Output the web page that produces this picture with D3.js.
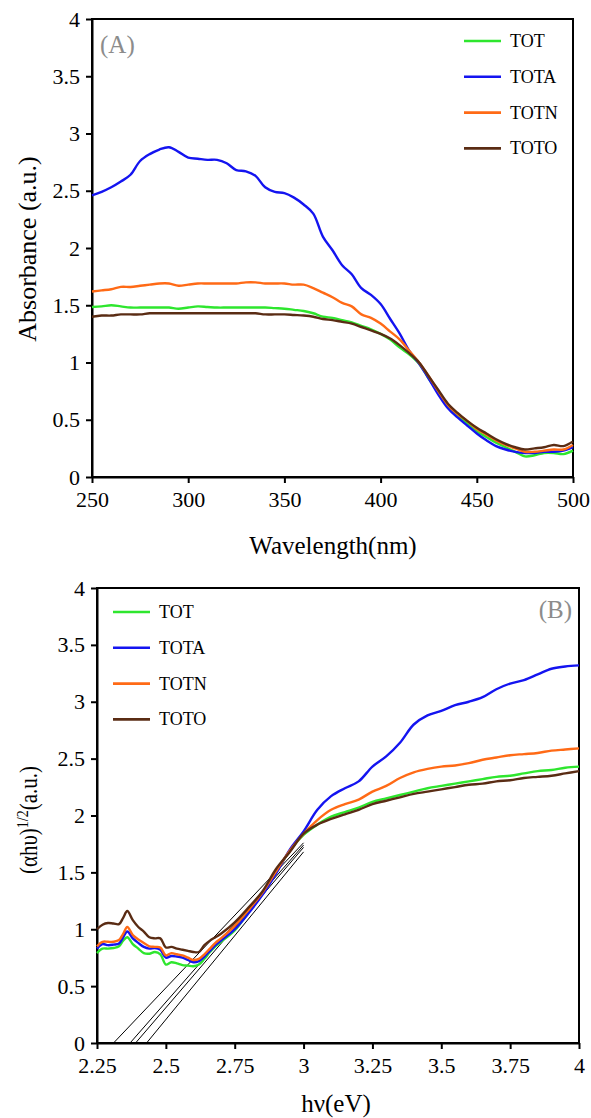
<!DOCTYPE html>
<html>
<head>
<meta charset="utf-8">
<script src="https://cdn.jsdelivr.net/npm/d3@7"></script>
<style>
  body { margin: 0; background: #fff; }
</style>
</head>
<body>
<svg id="chart" width="591" height="1118"></svg>
<script>
var serif = "'Liberation Serif', 'DejaVu Serif', 'Times New Roman', serif";

// series
var seriesNames = ["TOT", "TOTA", "TOTN", "TOTO"];
var seriesColors = ["#2ee62e", "#1414f0", "#ff6a16", "#5a2c14"];

// (A) absorbance vs wavelength (nm)
var wlA = [250,255,260,265,270,275,280,285,290,295,300,305,310,315,320,325,330,335,340,345,350,355,360,365,370,375,380,385,390,395,400,405,410,415,420,425,430,435,440,445,450,455,460,465,470,475,480,485,490,495,500];
var absTOT  = [1.485,1.49,1.50,1.49,1.48,1.48,1.48,1.48,1.48,1.47,1.48,1.49,1.485,1.48,1.48,1.48,1.48,1.48,1.48,1.475,1.47,1.46,1.45,1.43,1.40,1.39,1.37,1.35,1.32,1.29,1.25,1.20,1.13,1.07,0.99,0.86,0.74,0.62,0.54,0.47,0.40,0.35,0.30,0.26,0.22,0.18,0.19,0.21,0.21,0.20,0.23];
var absTOTA = [2.46,2.49,2.53,2.58,2.64,2.76,2.82,2.86,2.88,2.84,2.79,2.78,2.77,2.77,2.74,2.68,2.67,2.63,2.53,2.49,2.48,2.44,2.38,2.30,2.10,1.98,1.85,1.77,1.65,1.59,1.51,1.38,1.25,1.10,0.99,0.86,0.72,0.60,0.52,0.45,0.38,0.32,0.27,0.24,0.22,0.21,0.21,0.22,0.22,0.23,0.26];
var absTOTN = [1.62,1.63,1.64,1.66,1.66,1.67,1.68,1.69,1.69,1.67,1.68,1.69,1.69,1.69,1.69,1.69,1.70,1.70,1.69,1.69,1.69,1.68,1.68,1.65,1.61,1.57,1.52,1.49,1.42,1.39,1.34,1.27,1.20,1.10,1.00,0.88,0.75,0.63,0.55,0.49,0.42,0.37,0.32,0.28,0.25,0.22,0.22,0.23,0.24,0.24,0.28];
var absTOTO = [1.40,1.41,1.41,1.42,1.42,1.42,1.43,1.43,1.43,1.43,1.43,1.43,1.43,1.43,1.43,1.43,1.43,1.43,1.42,1.42,1.42,1.415,1.41,1.40,1.38,1.37,1.355,1.34,1.31,1.28,1.25,1.21,1.15,1.08,1.00,0.88,0.76,0.64,0.56,0.49,0.43,0.38,0.33,0.29,0.26,0.24,0.25,0.26,0.28,0.27,0.31];

// (B) (alpha h nu)^1/2 vs photon energy (eV)
var eB = [2.25,2.27,2.29,2.31,2.33,2.345,2.36,2.38,2.40,2.42,2.44,2.46,2.48,2.50,2.52,2.54,2.56,2.58,2.60,2.62,2.64,2.66,2.68,2.70,2.75,2.80,2.85,2.90,2.95,3.00,3.05,3.10,3.15,3.20,3.25,3.30,3.35,3.40,3.45,3.50,3.55,3.60,3.65,3.70,3.75,3.80,3.85,3.90,3.95,4.00];
var taucTOT  = [0.79,0.83,0.83,0.835,0.85,0.90,0.93,0.87,0.83,0.79,0.785,0.80,0.78,0.69,0.71,0.70,0.685,0.68,0.675,0.69,0.74,0.80,0.85,0.89,0.99,1.15,1.31,1.50,1.69,1.83,1.92,1.99,2.03,2.07,2.12,2.15,2.18,2.21,2.24,2.26,2.28,2.30,2.32,2.34,2.35,2.37,2.39,2.40,2.42,2.43];
var taucTOTA = [0.83,0.87,0.86,0.865,0.875,0.93,0.98,0.92,0.88,0.845,0.83,0.835,0.82,0.75,0.765,0.76,0.75,0.73,0.71,0.72,0.76,0.81,0.86,0.90,1.00,1.14,1.30,1.49,1.70,1.86,2.05,2.17,2.24,2.30,2.43,2.52,2.64,2.80,2.88,2.92,2.97,3.00,3.04,3.11,3.16,3.19,3.24,3.29,3.31,3.32];
var taucTOTN = [0.85,0.89,0.89,0.89,0.905,0.96,1.02,0.95,0.91,0.88,0.85,0.845,0.84,0.77,0.79,0.78,0.77,0.75,0.73,0.74,0.78,0.83,0.88,0.92,1.03,1.17,1.32,1.51,1.69,1.84,1.96,2.05,2.10,2.14,2.21,2.26,2.33,2.38,2.41,2.43,2.44,2.46,2.49,2.51,2.53,2.54,2.55,2.57,2.58,2.59];
var taucTOTO = [1.00,1.04,1.055,1.05,1.045,1.10,1.16,1.08,1.02,0.98,0.93,0.92,0.92,0.84,0.845,0.83,0.82,0.81,0.80,0.80,0.86,0.90,0.93,0.96,1.06,1.19,1.33,1.53,1.68,1.84,1.92,1.97,2.01,2.05,2.10,2.13,2.16,2.19,2.21,2.23,2.25,2.27,2.28,2.30,2.31,2.33,2.34,2.35,2.37,2.39];

// band-gap tangent lines: x intercept (eV) and value reached at 3 eV
var tangentStart = [2.31, 2.37, 2.39, 2.43];
var tangentEndE = 3.0;
var tangentEnd = [1.76, 1.74, 1.72, 1.68];

// ticks
var ticksAx = [250, 300, 350, 400, 450, 500];
var ticksY = [0, 0.5, 1, 1.5, 2, 2.5, 3, 3.5, 4];
var ticksBx = [2.25, 2.5, 2.75, 3, 3.25, 3.5, 3.75, 4];

var svg = d3.select("#chart");

function drawPanel(cfg) {
  var x = d3.scaleLinear().domain(cfg.xDomain).range([cfg.left, cfg.right]);
  var y = d3.scaleLinear().domain([0, 4]).range([cfg.bottom, cfg.top]);
  var g = svg.append("g");

  // frame
  g.append("rect")
    .attr("x", cfg.left).attr("y", cfg.top)
    .attr("width", cfg.right - cfg.left).attr("height", cfg.bottom - cfg.top)
    .attr("fill", "none").attr("stroke", "#000").attr("stroke-width", 2);

  var xa = g.append("g").attr("transform", "translate(0," + cfg.bottom + ")")
    .call(d3.axisBottom(x).tickValues(cfg.xTicks).tickFormat(function(d){ return d; }).tickSize(6).tickSizeOuter(0).tickPadding(8));
  var ya = g.append("g").attr("transform", "translate(" + cfg.left + ",0)")
    .call(d3.axisLeft(y).tickValues(ticksY).tickFormat(function(d){ return d; }).tickSize(6).tickSizeOuter(0).tickPadding(6));
  [xa, ya].forEach(function(a){
    a.attr("font-family", null);
    a.select(".domain").attr("stroke-width", 2);
    a.selectAll(".tick line").attr("stroke-width", 2);
    a.selectAll(".tick text")
      .style("font-family", serif)
      .style("font-size", "22px")
      .attr("fill", "#000");
  });

  // tangent lines behind curves
  if (cfg.tangents) {
    cfg.tangents.forEach(function(t){
      g.append("line")
        .attr("x1", x(t[0])).attr("y1", y(0))
        .attr("x2", x(t[1])).attr("y2", y(t[2]))
        .attr("stroke", "#000").attr("stroke-width", 1);
    });
  }

  var line = d3.line()
    .x(function(d){ return x(d[0]); })
    .y(function(d){ return y(d[1]); })
    .curve(d3.curveCatmullRom);

  cfg.series.forEach(function(vals, i){
    g.append("path")
      .datum(cfg.xs.map(function(v, j){ return [v, vals[j]]; }))
      .attr("fill", "none")
      .attr("stroke", seriesColors[i])
      .attr("stroke-width", 2.4)
      .attr("stroke-linejoin", "round")
      .attr("d", line);
  });

  // legend
  seriesNames.forEach(function(name, i){
    var ly = cfg.legY + i * 35.8;
    g.append("line")
      .attr("x1", cfg.legX).attr("x2", cfg.legX + 37)
      .attr("y1", ly).attr("y2", ly)
      .attr("stroke", seriesColors[i]).attr("stroke-width", 2.6);
    g.append("text")
      .attr("x", cfg.legX + 46).attr("y", ly + 6)
      .style("font-family", serif)
      .style("font-size", "18px")
      .attr("fill", "#000")
      .text(name);
  });

  // panel tag
  g.append("text")
    .attr("x", cfg.tagX).attr("y", cfg.tagY)
    .attr("text-anchor", cfg.tagAnchor)
    .style("font-family", serif)
    .style("font-size", "25px")
    .attr("fill", "#8c8c8c")
    .text(cfg.tag);

  return {x: x, y: y, g: g};
}

function title(g, tf, txt, size) {
  return g.append("text")
    .attr("transform", tf)
    .attr("text-anchor", "middle")
    .style("font-family", serif)
    .style("font-size", (size || 25) + "px")
    .attr("fill", "#000")
    .text(txt);
}

var pA = drawPanel({
  left: 92, right: 573, top: 19, bottom: 477,
  xDomain: [250, 500], xTicks: ticksAx,
  xs: wlA, series: [absTOT, absTOTA, absTOTN, absTOTO],
  legX: 464, legY: 41,
  tag: "(A)", tagX: 100, tagY: 53, tagAnchor: "start"
});

title(pA.g, "translate(333,554)", "Wavelength(nm)");
title(pA.g, "translate(36,249) rotate(-90)", "Absorbance (a.u.)", 26);

var pB = drawPanel({
  left: 97, right: 579, top: 588, bottom: 1043,
  xDomain: [2.25, 4], xTicks: ticksBx,
  xs: eB, series: [taucTOT, taucTOTA, taucTOTN, taucTOTO],
  tangents: tangentStart.map(function(s, i){ return [s, tangentEndE, tangentEnd[i]]; }),
  legX: 113, legY: 612,
  tag: "(B)", tagX: 572, tagY: 618, tagAnchor: "end"
});

title(pB.g, "translate(336,1112)", "hν(eV)");

// y title of (B): a bit shorter and thicker in the reference
var yt = title(pB.g, "translate(37,820) rotate(-90) scale(1,1.15)", null, 21);
yt.append("tspan").text("(αhυ)");
yt.append("tspan").attr("dy", -8).style("font-size", "14px").text("1/2");
yt.append("tspan").attr("dy", 8).text("(a.u.)");
</script>
</body>
</html>
